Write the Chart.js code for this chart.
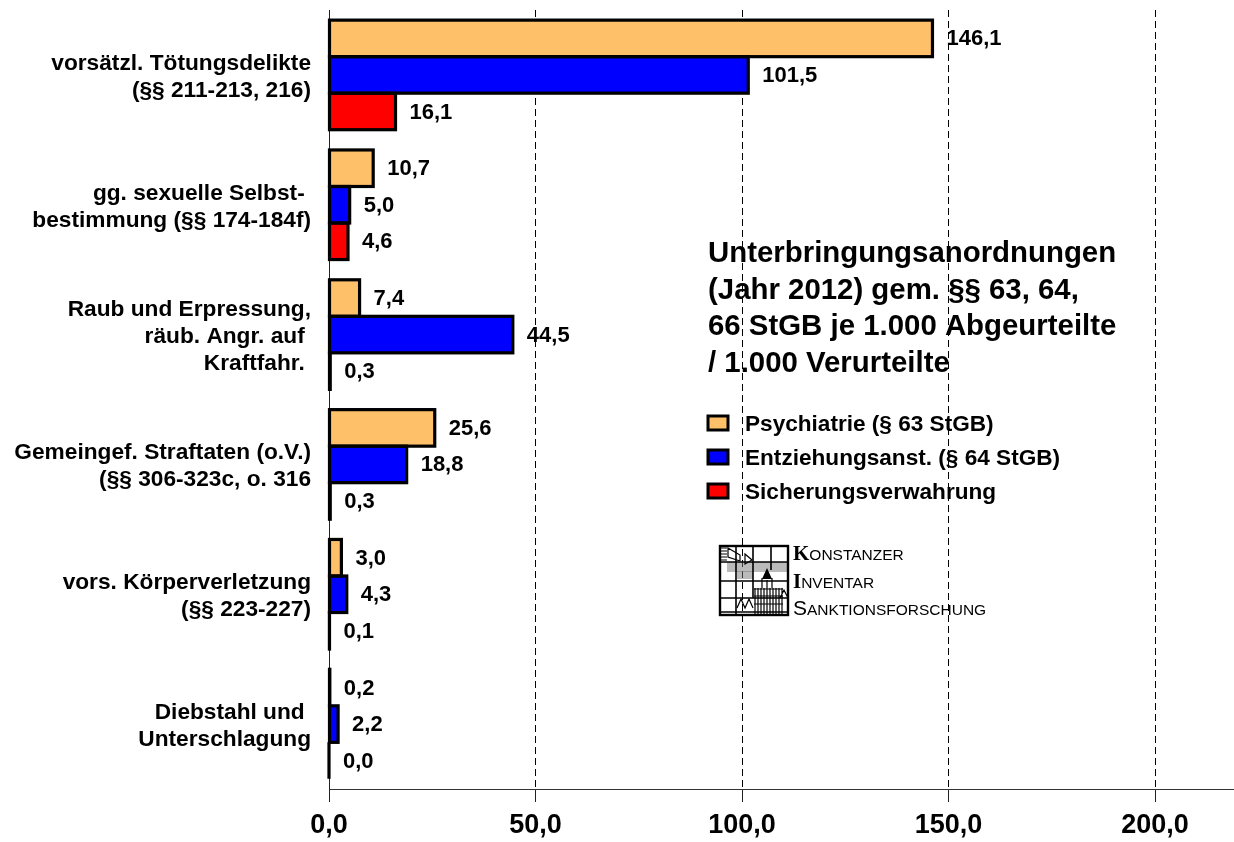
<!DOCTYPE html>
<html lang="de"><head><meta charset="utf-8">
<style>html,body{margin:0;padding:0;background:#fff}#w{position:relative;width:1234px;height:842px}</style>
<script src="https://cdn.jsdelivr.net/npm/chart.js@4/dist/chart.umd.js"></script>
</head><body><div id="w"><canvas id="c" width="1234" height="842"></canvas></div>
<script>
const categories = [
  ["vorsätzl. Tötungsdelikte","(§§ 211-213, 216)"],
  ["gg. sexuelle Selbst- ","bestimmung (§§ 174-184f)"],
  ["Raub und Erpressung,","räub. Angr. auf ","Kraftfahr. "],
  ["Gemeingef. Straftaten (o.V.)","(§§ 306-323c, o. 316"],
  ["vors. Körperverletzung","(§§ 223-227)"],
  ["Diebstahl und ","Unterschlagung"]
];
const psychiatrie = [146.1,10.7,7.4,25.6,3.0,0.2];
const entziehung = [101.5,5.0,44.5,18.8,4.3,2.2];
const sicherung = [16.1,4.6,0.3,0.3,0.1,0.0];
const seriesNames = ["Psychiatrie (§ 63 StGB)","Entziehungsanst. (§ 64 StGB)","Sicherungsverwahrung"];
const seriesColors = ["#FFC06A","#0000FF","#FF0000"];
const titleLines = ["Unterbringungsanordnungen","(Jahr 2012) gem. §§ 63, 64,","66 StGB je 1.000 Abgeurteilte","/ 1.000 Verurteilte"];
const logoLines = [["K","ONSTANZER"],["I","NVENTAR"],["S","ANKTIONSFORSCHUNG"]];
const FF = '"Liberation Sans", Arial, sans-serif';
const fmt = v => v.toFixed(1).replace('.',',');

const outlineAndLabels = {
  id:'outlineAndLabels',
  afterDatasetsDraw(chart){
    const ctx = chart.ctx;
    ctx.save();
    chart.data.datasets.forEach((ds,i)=>{
      chart.getDatasetMeta(i).data.forEach((bar,j)=>{
        const h = bar.height;
        ctx.strokeStyle='#000'; ctx.lineWidth=3.2; ctx.lineJoin='miter';
        ctx.strokeRect(bar.base, bar.y-h/2, bar.x-bar.base, h);
        ctx.fillStyle='#000'; ctx.font='bold 22px '+FF;
        ctx.textAlign='left'; ctx.textBaseline='middle';
        ctx.fillText(fmt(ds.data[j]), bar.x+14, bar.y+1);
      });
    });
    ctx.restore();
  },
  afterDraw(chart){
    const ctx = chart.ctx;
    ctx.save();
    ctx.fillStyle='#000'; ctx.textAlign='left'; ctx.textBaseline='alphabetic';
    ctx.font='bold 29.4px '+FF;
    titleLines.forEach((t,i)=>ctx.fillText(t,708,262+i*36.7));
    // legend
    chart.data.datasets.forEach((ds,i)=>{
      const y = 416+i*34;
      ctx.fillStyle=ds.backgroundColor;
      ctx.strokeStyle='#000'; ctx.lineWidth=3;
      ctx.fillRect(708,y,20,14); ctx.strokeRect(708,y,20,14);
      ctx.fillStyle='#000'; ctx.font='bold 22.6px '+FF;
      ctx.fillText(ds.label,745,y+15);
    });
    // logo
    const L=720,T=546,R=788,B=615;
    ctx.strokeStyle='#777'; ctx.lineWidth=1; ctx.beginPath();
    for(let y=563;y<572;y+=2){ctx.moveTo(727,y);ctx.lineTo(R,y);}
    for(let y=572;y<580;y+=2){ctx.moveTo(737,y);ctx.lineTo(753,y);}
    ctx.stroke();
    ctx.strokeStyle='#000'; ctx.lineWidth=2.4;
    ctx.strokeRect(L,T,R-L,B-T);
    ctx.lineWidth=1.6;
    ctx.beginPath();
    ctx.moveTo(736,T);ctx.lineTo(736,B);
    ctx.moveTo(753,T);ctx.lineTo(753,598);
    ctx.moveTo(771,T);ctx.lineTo(771,570);
    [562,581,598,612].forEach(y=>{ctx.moveTo(L,y);ctx.lineTo(R,y);});
    ctx.stroke();
    ctx.lineWidth=1.2; ctx.beginPath();
    for(let y=548;y<562;y+=3){ctx.moveTo(721,y);ctx.lineTo(727,y);}
    for(let x=755;x<783;x+=3){ctx.moveTo(x,588);ctx.lineTo(x,B);}
    ctx.moveTo(754,589);ctx.lineTo(783,589);ctx.moveTo(754,596);ctx.lineTo(783,596);ctx.moveTo(754,604);ctx.lineTo(783,604);
    ctx.moveTo(762,588);ctx.lineTo(762,578);ctx.moveTo(772,588);ctx.lineTo(772,578);
    ctx.moveTo(767,580);ctx.lineTo(767,590);
    ctx.moveTo(737,608);ctx.lineTo(741,599);ctx.lineTo(745,608);ctx.lineTo(749,599);ctx.lineTo(753,608);
    ctx.moveTo(780,598);ctx.lineTo(784,590);ctx.lineTo(788,598);
    ctx.moveTo(728,548);ctx.lineTo(740,555);ctx.lineTo(740,561);ctx.lineTo(728,557);ctx.closePath();
    ctx.moveTo(745,554);ctx.lineTo(752,560);ctx.lineTo(745,564);ctx.closePath();
    ctx.stroke();
    ctx.fillStyle='#000'; ctx.beginPath();
    ctx.moveTo(767,568);ctx.lineTo(772,579);ctx.lineTo(762,579);ctx.closePath();ctx.fill();
    const yl=[560,588,615];
    logoLines.forEach((p,i)=>{
      let x=793;
      ctx.font=(i<2?'bold 21px "Liberation Serif", serif':'21px '+FF);
      ctx.fillStyle='#000';
      ctx.fillText(p[0],x,yl[i]);
      x+=ctx.measureText(p[0]).width;
      ctx.font='15.5px '+FF;
      ctx.fillText(p[1],x,yl[i]);
    });
    ctx.restore();
  }
};

const mk=(name,data,col)=>({label:name,data,backgroundColor:col,borderWidth:0,categoryPercentage:0.844,barPercentage:1});
new Chart(document.getElementById('c'),{
  type:'bar',
  plugins:[outlineAndLabels],
  data:{labels:categories,datasets:[
    mk(seriesNames[0],psychiatrie,seriesColors[0]),
    mk(seriesNames[1],entziehung,seriesColors[1]),
    mk(seriesNames[2],sicherung,seriesColors[2])
  ]},
  options:{
    indexAxis:'y',responsive:false,animation:false,
    layout:{padding:{top:10,left:0,right:0,bottom:0}},
    plugins:{legend:{display:false},title:{display:false},tooltip:{enabled:false}},
    scales:{
      x:{min:0,max:219.1,position:'bottom',
        afterFit(s){s.height=53;s.paddingLeft=0;s.paddingRight=0;},
        grid:{display:true,color:'#000',lineWidth:1,drawOnChartArea:true,drawTicks:true,tickLength:13,tickColor:'#222',tickBorderDash:[]},
        border:{display:true,color:'#333',width:1,dash:[7,4]},
        ticks:{stepSize:50,includeBounds:false,maxRotation:0,autoSkip:false,color:'#000',padding:7,
          font:{family:FF,size:27,weight:'bold'},callback:v=>fmt(v)}
      },
      y:{position:'left',
        afterFit(s){s.width=329;s.paddingTop=0;s.paddingBottom=0;},
        border:{display:true,color:'#222',width:1},
        grid:{display:false,drawTicks:false},
        ticks:{autoSkip:false,color:'#000',padding:18,crossAlign:'near',labelOffset:2,
          font:{family:FF,size:22.7,weight:'bold',lineHeight:1.19}}
      }
    }
  }
});
</script></body></html>
